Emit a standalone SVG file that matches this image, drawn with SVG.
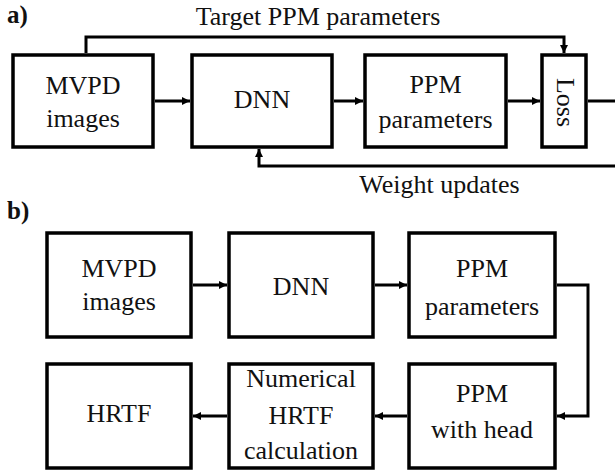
<svg xmlns="http://www.w3.org/2000/svg" width="615" height="472" viewBox="0 0 615 472">
  <style>
    .box { fill: #ffffff; stroke: #000000; stroke-width: 3.5; }
    .wire { fill: none; stroke: #000000; stroke-width: 3; }
    .arrow { fill: none; stroke: #000000; stroke-width: 3; marker-end: url(#head); }
    .lbl { text-anchor: middle; }
    .tag { font-weight: bold; font-size: 25px; }
  </style>
  <defs>
    <marker id="head" viewBox="0 0 10 10" refX="10" refY="5" markerWidth="9" markerHeight="8" markerUnits="userSpaceOnUse" orient="auto">
      <path d="M0,0 L10,5 L0,10 Z" fill="#000000"/>
    </marker>
  </defs>

  <g font-family="'Liberation Serif', 'DejaVu Serif', serif" font-size="26" fill="#111111">
  <!-- panel a: training loop -->
  <text class="tag" x="7" y="23">a)</text>
  <text class="lbl" x="318" y="25">Target PPM parameters</text>
  <text class="lbl" x="439.5" y="193">Weight updates</text>

  <g id="a-mvpd">
    <rect class="box" x="13" y="55" width="140" height="92"/>
    <text class="lbl" x="83" y="94">MVPD</text>
    <text class="lbl" x="83" y="127">images</text>
  </g>
  <g id="a-dnn">
    <rect class="box" x="192" y="55" width="140" height="92"/>
    <text class="lbl" x="262" y="108">DNN</text>
  </g>
  <g id="a-ppm">
    <rect class="box" x="365" y="55" width="141" height="92"/>
    <text class="lbl" x="435.5" y="93">PPM</text>
    <text class="lbl" x="435.5" y="128">parameters</text>
  </g>
  <g id="a-loss">
    <rect class="box" x="542" y="55" width="44" height="92"/>
    <text class="lbl" transform="translate(557,102.5) rotate(90)">Loss</text>
  </g>

  <!-- panel b: inference chain -->
  <text class="tag" x="7" y="219">b)</text>

  <g id="b-mvpd">
    <rect class="box" x="47" y="233" width="144" height="104"/>
    <text class="lbl" x="119" y="277">MVPD</text>
    <text class="lbl" x="119" y="310">images</text>
  </g>
  <g id="b-dnn">
    <rect class="box" x="229" y="233" width="144" height="104"/>
    <text class="lbl" x="301" y="295">DNN</text>
  </g>
  <g id="b-ppm">
    <rect class="box" x="409" y="233" width="146" height="104"/>
    <text class="lbl" x="482" y="277">PPM</text>
    <text class="lbl" x="482" y="315">parameters</text>
  </g>
  <g id="b-hrtf">
    <rect class="box" x="47" y="364" width="144" height="104"/>
    <text class="lbl" x="119" y="422">HRTF</text>
  </g>
  <g id="b-numerical">
    <rect class="box" x="229" y="364" width="144" height="104"/>
    <text class="lbl" x="301" y="387">Numerical</text>
    <text class="lbl" x="301" y="424">HRTF</text>
    <text class="lbl" x="301" y="459">calculation</text>
  </g>
  <g id="b-ppmhead">
    <rect class="box" x="409" y="364" width="146" height="104"/>
    <text class="lbl" x="482" y="402">PPM</text>
    <text class="lbl" x="482" y="438">with head</text>
  </g>
  </g>

  <g id="connectors">
    <!-- panel a -->
    <path class="arrow" d="M155,101 H190"/>
    <path class="arrow" d="M334,101 H363"/>
    <path class="arrow" d="M508,101 H540"/>
    <path class="wire" d="M588,101 H615"/>
    <path class="arrow" d="M86,53 V37 H564 V53"/>
    <path class="arrow" d="M615,166 H259 V149"/>
    <!-- panel b -->
    <path class="arrow" d="M193,285 H227"/>
    <path class="arrow" d="M375,285 H407"/>
    <path class="arrow" d="M557,285 H588 V416 H557"/>
    <path class="arrow" d="M407,416 H375"/>
    <path class="arrow" d="M227,416 H193"/>
  </g>
</svg>
